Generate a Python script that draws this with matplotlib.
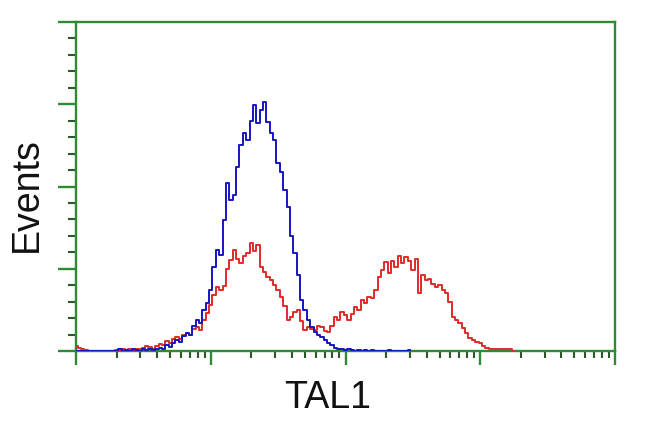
import numpy as np
import matplotlib
matplotlib.use("Agg")
import matplotlib.pyplot as plt
from matplotlib.ticker import MultipleLocator, LogLocator, NullFormatter

# Channel grid in log10 decades (bin centres)
decade_step = 0.025
blue_events = [
    0, 0, 0, 0, 0, 0, 0, 0, 0, 0, 0, 0, 0, 2, 0, 1, 0, 2, 1, 0,
    2, 1, 3, 1, 2, 4, 3, 7, 5, 10, 13, 11, 18, 22, 19, 30, 38, 34, 50, 58,
    74, 102, 123, 117, 159, 204, 184, 190, 224, 250, 265, 257, 280, 299, 277, 293, 303, 278, 265, 257,
    229, 218, 196, 175, 140, 119, 92, 62, 50, 38, 29, 23, 20, 17, 13, 10, 7, 4, 2, 3,
    1, 2, 1, 0, 1, 0, 1, 0, 1, 0, 0, 0, 0, 1, 0, 0, 0, 0, 0, 1,
]
red_events = [
    6, 4, 2, 1, 0, 0, 0, 0, 0, 0, 0, 0, 1, 0, 2, 1, 2, 1, 3, 2,
    4, 6, 5, 3, 6, 8, 7, 12, 10, 14, 17, 15, 20, 22, 19, 27, 29, 25, 38, 46,
    56, 68, 78, 74, 79, 100, 111, 123, 112, 107, 116, 119, 131, 122, 129, 102, 96, 90, 86, 80,
    74, 66, 55, 38, 41, 47, 50, 36, 26, 29, 27, 26, 31, 29, 24, 23, 30, 41, 38, 47,
    44, 38, 45, 54, 50, 62, 58, 66, 64, 74, 90, 98, 108, 95, 110, 102, 116, 107, 114, 110,
    99, 112, 70, 92, 86, 88, 82, 78, 80, 74, 70, 60, 41, 38, 34, 28, 22, 16, 13, 11,
    10, 6, 4, 2, 2, 2, 2, 2, 2, 2, 0,
]
x_label = "TAL1"
y_label = "Events"

blue_x = 10 ** (np.arange(len(blue_events)) * decade_step)
red_x = 10 ** (np.arange(len(red_events)) * decade_step)

W, H = 650, 432
fig = plt.figure(figsize=(W / 100, H / 100), dpi=100)
ax = fig.add_axes([76 / W, 1 - 351 / H, (615 - 76) / W, (351 - 22) / H])

green = "#2f8a36"
ax.plot(red_x, red_events, drawstyle="steps-mid", color="#e02a2a", lw=1.4, zorder=3)
ax.plot(blue_x, blue_events, drawstyle="steps-mid", color="#1515c0", lw=1.4, zorder=4)

ax.set_xscale("log")
ax.set_xlim(1, 1e4)
ax.set_ylim(0, 400)

for s in ax.spines.values():
    s.set_color(green)
    s.set_linewidth(1.7)

ax.yaxis.set_major_locator(MultipleLocator(100))
ax.yaxis.set_minor_locator(MultipleLocator(20))
ax.xaxis.set_major_locator(LogLocator(base=10, numticks=10))
ax.xaxis.set_minor_locator(LogLocator(base=10, subs=np.arange(2, 10), numticks=20))
ax.xaxis.set_major_formatter(NullFormatter())
ax.xaxis.set_minor_formatter(NullFormatter())
ax.yaxis.set_major_formatter(NullFormatter())

ax.tick_params(axis="y", which="major", direction="out", length=13, width=1.7, color=green)
ax.tick_params(axis="y", which="minor", direction="out", length=6, width=1.5, color="#2a5a2a")
ax.tick_params(axis="x", which="major", direction="out", length=10, width=1.7, color=green)
ax.tick_params(axis="x", which="minor", direction="out", length=5, width=1.5, color="#2a5a2a")

fig.text(328 / W, 1 - 408 / H, x_label, ha="center", va="baseline",
         fontsize=27, family="Liberation Sans", color="#111111")
fig.text(27 / W, 1 - 195 / H, y_label, ha="center", va="center", rotation=90,
         fontsize=27, family="Liberation Sans", color="#111111")

fig.savefig("out.png", dpi=100)
